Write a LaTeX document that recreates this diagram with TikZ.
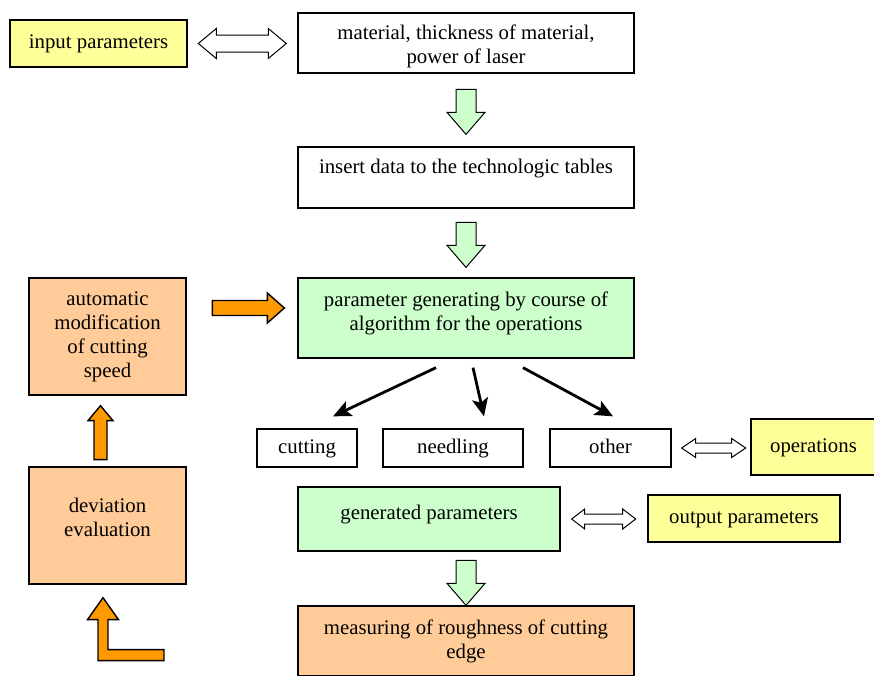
\documentclass[tikz,border=0pt]{standalone}
\usepackage{fontspec}
\setmainfont{Liberation Serif}
\usepackage{xcolor}
\usepackage{tikz}
\usetikzlibrary{arrows.meta,positioning,calc}
\definecolor{pyellow}{HTML}{FFFF99}
\definecolor{pgreen}{HTML}{CCFFCC}
\definecolor{ppeach}{HTML}{FFCC99}
\definecolor{porange}{HTML}{FF9900}

\tikzset{
  box/.style={draw=black,line width=1.3pt,fill=white,align=center,
              inner sep=0pt,font=\fontsize{20.8}{24}\selectfont},
  oneline/.style={text height=14.5pt,text depth=4.5pt},
  yellowbox/.style={box,fill=pyellow,line width=2.6pt},
  greenbox/.style={box,fill=pgreen},
  peachbox/.style={box,fill=ppeach},
  flow/.style={line width=2.8pt,-{Stealth[length=18pt,width=16pt,inset=4pt]}},
  blockgreen/.style={draw=black,line width=1pt,fill=pgreen},
  blockorange/.style={draw=black,line width=1.4pt,fill=porange},
  blockwhite/.style={draw=black,line width=1pt,fill=white},
  % block arrows, origin at the tip
  pics/dnarrow/.style={code={
    \path[blockgreen] (0,0) -- (19,-22) -- (10,-22) -- (10,-45)
      -- (-10,-45) -- (-10,-22) -- (-19,-22) -- cycle;}},
  pics/rtarrow/.style={code={
    \path[blockorange] (0,0) -- (-17,-15) -- (-17,-7.5) -- (-72,-7.5)
      -- (-72,7.5) -- (-17,7.5) -- (-17,15) -- cycle;}},
  pics/uparrow/.style={code={
    \path[blockorange] (0,0) -- (12.5,15) -- (6.5,15) -- (6.5,54)
      -- (-6.5,54) -- (-6.5,15) -- (-12.5,15) -- cycle;}},
  pics/elbowarrow/.style={code={
    \path[blockorange] (0,0) -- (15.5,22) -- (5,22) -- (5,52) -- (61,52)
      -- (61,63) -- (-5,63) -- (-5,22) -- (-15.5,22) -- cycle;}},
  % length / head length / head half width / shaft half width
  pics/dblarrow/.style n args={4}{code={
    \path[blockwhite] (0,0) -- (#2,-#3) -- (#2,-#4) -- ({#1-#2},-#4)
      -- ({#1-#2},-#3) -- (#1,0) -- ({#1-#2},#3) -- ({#1-#2},#4)
      -- (#2,#4) -- (#2,#3) -- cycle;}}
}

\begin{document}
\begin{tikzpicture}[x=1pt,y=-1pt]
  \useasboundingbox (0,0) rectangle (874,675);

  % main column
  \node[box,minimum width=336pt,minimum height=60pt] (mat) at (466,43)
    {\rule{0pt}{22pt}material, thickness of material,\\power of laser};
  \node[box,oneline,text depth=22pt,minimum width=336pt,minimum height=61pt]
    (ins) at (466,177.5) {insert data to the technologic tables};
  \node[greenbox,minimum width=336pt,minimum height=80pt] (gen) at (466,318)
    {parameter generating by course of\\algorithm for the operations\rule[-13pt]{0pt}{13pt}};
  \node[box,oneline,minimum width=100pt,minimum height=38pt] (cut) at (307,448) {cutting};
  \node[box,oneline,minimum width=140pt,minimum height=38pt] (need) at (453,448) {needling};
  \node[box,oneline,minimum width=121pt,minimum height=38pt] (oth) at (610.5,448) {other};
  \node[greenbox,oneline,text depth=13pt,minimum width=262pt,minimum height=64pt]
    (gp) at (429,519) {generated parameters};
  \node[peachbox,minimum width=336pt,minimum height=70pt] (meas) at (466,641)
    {measuring of roughness of cutting\\edge};

  % side boxes
  \node[yellowbox,oneline,minimum width=177pt,minimum height=47pt] (inp) at (98.5,43.5)
    {input parameters};
  \node[box,oneline,fill=pyellow,minimum width=125pt,minimum height=56pt] (ops) at (813.5,447)
    {operations};
  \node[yellowbox,oneline,minimum width=192pt,minimum height=47pt] (outp) at (744,518.5)
    {output parameters};
  \node[peachbox,minimum width=157pt,minimum height=117pt] (auto) at (107.5,336.5)
    {automatic\\modification\\of cutting\\speed};
  \node[peachbox,minimum width=157pt,minimum height=117pt] (dev) at (107.5,525.5)
    {deviation\\evaluation\rule[-16pt]{0pt}{16pt}};

  % block arrows
  \pic at ([yshift=12pt]ins.north) {dnarrow};
  \pic at ([yshift=10pt]gen.north) {dnarrow};
  \pic at (meas.north) {dnarrow};
  \pic at ([xshift=-13pt,yshift=10pt]gen.west) {rtarrow};
  \pic at ([xshift=-7pt,yshift=-10pt]auto.south) {uparrow};
  \pic at ([xshift=-4.5pt,yshift=-13pt]dev.south) {elbowarrow};
  \pic at ([xshift=10pt]inp.east) {dblarrow={88}{18}{15}{8.5}};
  \pic at ([xshift=10pt]oth.east) {dblarrow={64}{14}{9.5}{5}};
  \pic at ([xshift=11pt]gp.east) {dblarrow={64}{13}{10}{5}};

  % split into operations
  \draw[flow] ([xshift=-30pt,yshift=-9pt]gen.south) -- ([xshift=26pt,yshift=12pt]cut.north);
  \draw[flow] ([xshift=7pt,yshift=-9pt]gen.south) -- ([xshift=31pt,yshift=12pt]need.north);
  \draw[flow] ([xshift=57pt,yshift=-9pt]gen.south) -- ([xshift=2.5pt,yshift=12pt]oth.north);
\end{tikzpicture}
\end{document}
